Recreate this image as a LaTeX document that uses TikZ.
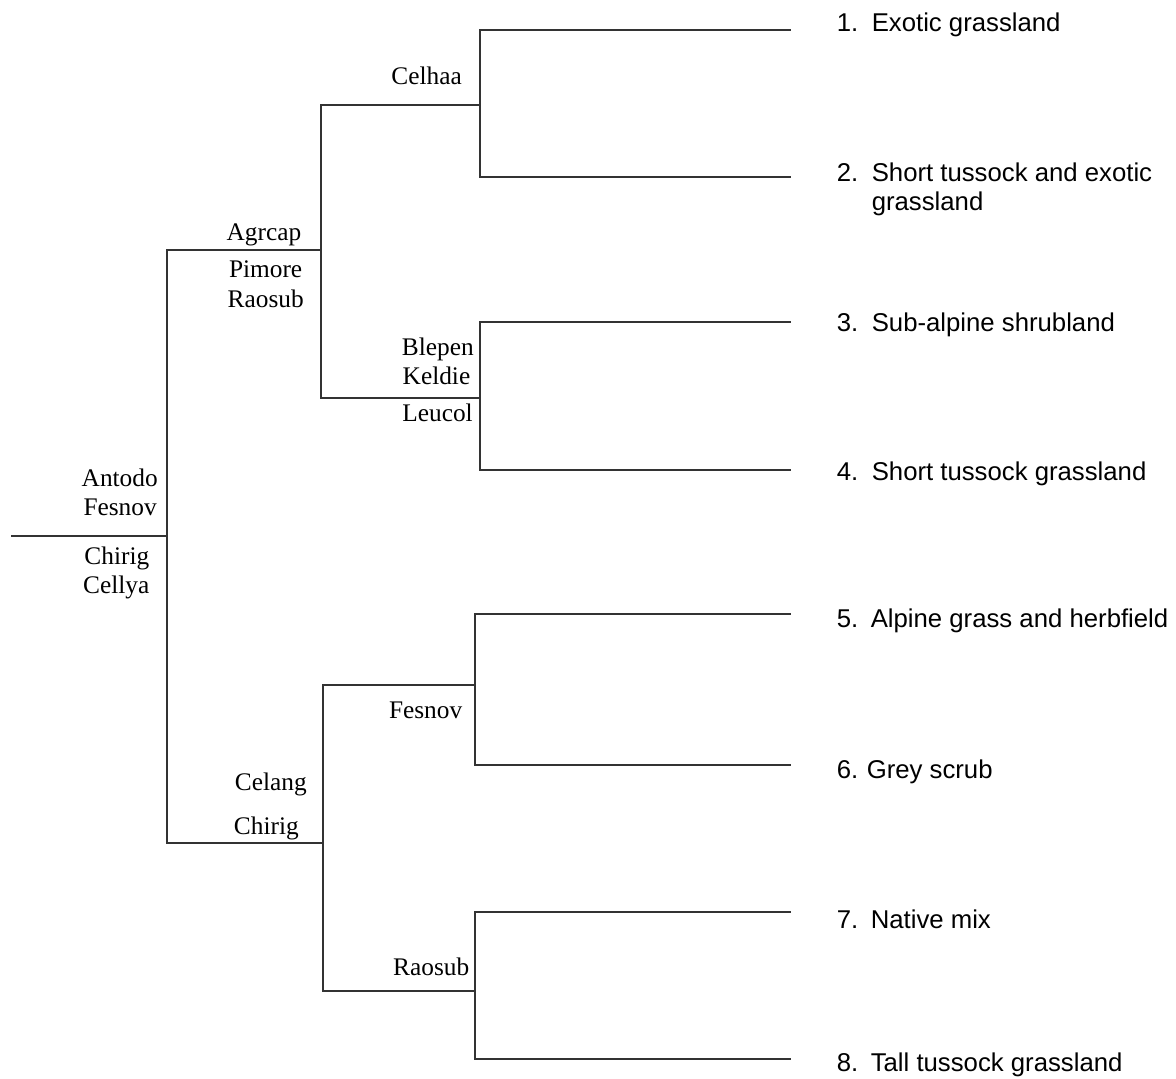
\documentclass[tikz,border=0pt]{standalone}
\usepackage{fontspec}
\setmainfont{Liberation Serif}
\newfontfamily\arialfont{Liberation Sans}
\begin{document}
\begin{tikzpicture}[x=0.75pt,y=-0.75pt,
  branch/.style={draw=black!80, line width=1.5pt, line cap=rect},
  sp/.style={anchor=base east, inner sep=0pt, font=\fontsize{19}{23}\selectfont},
  num/.style={anchor=base west, inner sep=0pt, font=\arialfont\fontsize{19.3}{21.75}\selectfont}]
\useasboundingbox (0,0) rectangle (1176,1078);
% branch points
\coordinate (r0) at (12,536);
\coordinate (r) at (166.5,536);
\coordinate (rA) at (166.5,250);
\coordinate (rB) at (166.5,843);
\coordinate (A) at (320.7,250);
\coordinate (A1) at (320.7,105);
\coordinate (A2) at (320.7,398);
\coordinate (C) at (480,105);
\coordinate (C1) at (480,29.5);
\coordinate (C2) at (480,177);
\coordinate (K) at (479.5,398);
\coordinate (K1) at (479.5,322);
\coordinate (K2) at (479.5,469.5);
\coordinate (B) at (323.4,843);
\coordinate (B1) at (323.4,685);
\coordinate (B2) at (323.4,991);
\coordinate (F) at (475.3,685);
\coordinate (F1) at (475.3,614);
\coordinate (F2) at (475.3,765);
\coordinate (R) at (475.3,991);
\coordinate (R1) at (475.3,911.5);
\coordinate (R2) at (475.3,1059);
\coordinate (L1) at (790,29.5);
\coordinate (L2) at (790,177);
\coordinate (L3) at (790,322);
\coordinate (L4) at (790,469.5);
\coordinate (L5) at (790,614);
\coordinate (L6) at (790,765);
\coordinate (L7) at (790,911.5);
\coordinate (L8) at (790,1059);
% tree
\draw[branch] (r0) -- (r);
\draw[branch] (rA) -- (rB);
\draw[branch] (rA) -- (A);
\draw[branch] (rB) -- (B);
\draw[branch] (A1) -- (A2);
\draw[branch] (A1) -- (C);
\draw[branch] (A2) -- (K);
\draw[branch] (C1) -- (C2);
\draw[branch] (K1) -- (K2);
\draw[branch] (B1) -- (B2);
\draw[branch] (B1) -- (F);
\draw[branch] (B2) -- (R);
\draw[branch] (F1) -- (F2);
\draw[branch] (R1) -- (R2);
\draw[branch] (C1) -- (L1);
\draw[branch] (C2) -- (L2);
\draw[branch] (K1) -- (L3);
\draw[branch] (K2) -- (L4);
\draw[branch] (F1) -- (L5);
\draw[branch] (F2) -- (L6);
\draw[branch] (R1) -- (L7);
\draw[branch] (R2) -- (L8);
% species labels
\node[sp] (sAntodo) at (158,486) {Antodo};
\node[sp] (sFesnov) at (157,515.5) {Fesnov};
\node[sp] (sChirig) at (149.5,564) {Chirig};
\node[sp] (sCellya) at (149.5,593) {Cellya};
\node[sp] (sAgrcap) at (301.5,240) {Agrcap};
\node[sp] (sPimore) at (302.5,277.5) {Pimore};
\node[sp] (sRaosub) at (304,307) {Raosub};
\node[sp] (sCelhaa) at (462,84) {Celhaa};
\node[sp] (sBlepen) at (474,355) {Blepen};
\node[sp] (sKeldie) at (470.5,384.5) {Keldie};
\node[sp] (sLeucol) at (473,421) {Leucol};
\node[sp] (sCelang) at (307,790.5) {Celang};
\node[sp] (sChirigB) at (299,834.5) {Chirig};
\node[sp] (sFesnovB) at (462.5,718) {Fesnov};
\node[sp] (sRaosubB) at (469.5,975) {Raosub};
% community labels
\node[num] (n1) at (836.5,31) {1.};
\node[num] (t1) at (871.5,31) {Exotic grassland};
\node[num] (n2) at (836.5,181) {2.};
\node[num] (t2) at (871.5,181) {\begin{tabular}[t]{@{}l@{}}Short tussock and exotic\\grassland\end{tabular}};
\node[num] (n3) at (836.5,331) {3.};
\node[num] (t3) at (871.5,331) {Sub-alpine shrubland};
\node[num] (n4) at (836.5,480) {4.};
\node[num] (t4) at (871.5,480) {Short tussock grassland};
\node[num] (n5) at (836.5,627) {5.};
\node[num] (t5) at (870.5,627) {Alpine grass and herbfield};
\node[num] (n6) at (836.5,778) {6.};
\node[num] (t6) at (866.5,778) {Grey scrub};
\node[num] (n7) at (836.5,928) {7.};
\node[num] (t7) at (870.5,928) {Native mix};
\node[num] (n8) at (836.5,1071.5) {8.};
\node[num] (t8) at (870.5,1071.5) {Tall tussock grassland};
\end{tikzpicture}
\end{document}
